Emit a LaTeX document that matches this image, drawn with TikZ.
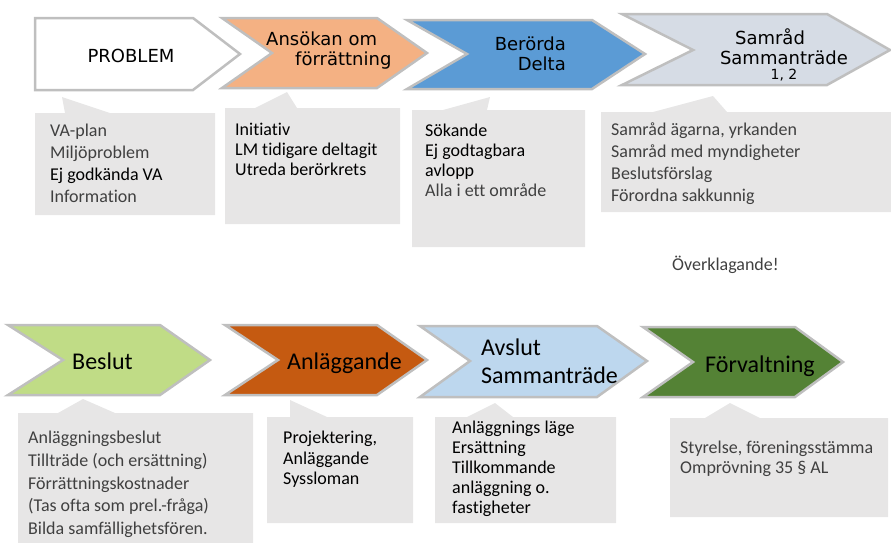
\documentclass[tikz,border=0pt]{standalone}
\usepackage{fontspec}
\setmainfont{Carlito}[Ligatures={TeX,NoCommon}]
\newfontfamily\chevfont{DejaVu Sans}

\begin{document}
\begin{tikzpicture}[x=1pt,y=-1pt,
  chevron/.style={draw=chevgray, line width=2.5pt, line join=miter},
  callout/.style={fill=calloutgray},
  toptext/.style={inner sep=0pt, font=\chevfont\fontsize{18}{20}\selectfont},
  bottext/.style={inner sep=0pt, font=\fontsize{24}{28}\selectfont},
  notetext/.style={inner sep=0pt, anchor=north west, align=left, text=notegray, font=\fontsize{18}{22}\selectfont},
  tightnote/.style={notetext, text=black, font=\fontsize{18}{20}\selectfont}]
\definecolor{chevgray}{RGB}{191,191,191}
\definecolor{calloutgray}{RGB}{231,230,230}
\definecolor{notegray}{RGB}{64,64,64}
\definecolor{ansokanorange}{RGB}{244,177,131}
\definecolor{berordablue}{RGB}{91,155,213}
\definecolor{samradgray}{RGB}{214,220,229}
\definecolor{beslutgreen}{RGB}{192,220,134}
\definecolor{anlaggbrown}{RGB}{197,90,17}
\definecolor{avslutblue}{RGB}{189,215,238}
\definecolor{forvaltgreen}{RGB}{84,130,53}
\useasboundingbox (0,0) rectangle (891,542);

\path[chevron, fill=white] (35,18) -- (193,18) -- (240,54) -- (193,90) -- (35,90) -- cycle;
\path[chevron, fill=ansokanorange] (222,18) -- (377,18) -- (427,53) -- (377,88) -- (222,88) -- (272,53) -- cycle;
\path[chevron, fill=berordablue] (407,20) -- (592,20) -- (645,54) -- (592,89) -- (407,89) -- (467,54) -- cycle;
\path[chevron, fill=samradgray] (622,14) -- (827,14) -- (890,50) -- (827,85) -- (622,85) -- (693,50) -- cycle;
\path[chevron, fill=beslutgreen] (8,325) -- (160,325) -- (210,360) -- (160,395) -- (8,395) -- (63,360) -- cycle;
\path[chevron, fill=anlaggbrown] (225,325) -- (377,325) -- (427,360) -- (377,395) -- (225,395) -- (278,360) -- cycle;
\path[chevron, fill=avslutblue] (420,326) -- (597,326) -- (647,361) -- (597,397) -- (420,397) -- (470,361) -- cycle;
\path[chevron, fill=forvaltgreen] (643,327) -- (795,327) -- (843,362) -- (795,397) -- (643,397) -- (693,362) -- cycle;

\node[toptext, anchor=base] (problem) at (131,62) {PROBLEM};
\node[toptext, anchor=north west, align=left] (ansokan) at (266,32) {Ansökan om\\\hspace*{29pt}förrättning};
\node[toptext, anchor=north east, align=right] (berorda) at (566,37) {Berörda\\Delta};
\node[toptext, anchor=north, align=center] (samrad) at (784,28) {Samråd\hspace*{28pt}\\Sammanträde\\[-5pt]{\fontsize{14}{16}\selectfont 1, 2}};
\node[bottext, anchor=base west] (beslut) at (72,369) {Beslut};
\node[bottext, anchor=base west] (anlaggande) at (287,369) {Anläggande};
\node[bottext, anchor=north west, align=left] (avslut) at (481,339) {Avslut\\Sammanträde};
\node[bottext, anchor=base west] (forvaltning) at (705,372) {Förvaltning};

\path[callout] (35,113) -- (65,113) -- (62,97) -- (110,113) -- (215,113) -- (215,215) -- (35,215) -- cycle;
\path[callout] (225,108) -- (255,108) -- (287,92) -- (297,108) -- (400,108) -- (400,224) -- (225,224) -- cycle;
\path[callout] (412,110) -- (443,110) -- (490,97) -- (487,110) -- (585,110) -- (585,247) -- (412,247) -- cycle;
\path[callout] (601,112) -- (653,112) -- (713,96) -- (727,112) -- (891,112) -- (891,212) -- (601,212) -- cycle;
\path[callout] (18,413) -- (58,413) -- (83,399) -- (115,413) -- (253,413) -- (253,550) -- (18,550) -- cycle;
\path[callout] (267,417) -- (290,417) -- (290,400) -- (327,417) -- (413,417) -- (413,523) -- (267,523) -- cycle;
\path[callout] (435,417) -- (467,417) -- (495,403) -- (513,417) -- (616,417) -- (616,523) -- (435,523) -- cycle;
\path[callout] (670,418) -- (705,418) -- (730,403) -- (760,418) -- (888,418) -- (888,517) -- (670,517) -- cycle;

\node[notetext] (problemnote) at (50,124) {VA-plan\\Miljöproblem\\\textcolor{black}{Ej godkända VA}\\Information};
\node[tightnote] (ansokannote) at (235,123) {Initiativ\\LM tidigare deltagit\\Utreda berörkrets};
\node[tightnote] (berordanote) at (425,124) {Sökande\\Ej godtagbara\\avlopp\\\textcolor{notegray}{Alla i ett område}};
\node[notetext] (samradnote) at (611,123) {Samråd ägarna, yrkanden\\Samråd med myndigheter\\Beslutsförslag\\Förordna sakkunnig};
\node[notetext, font=\fontsize{18}{22.7}\selectfont] (beslutnote) at (28,431) {Anläggningsbeslut\\Tillträde (och ersättning)\\Förrättningskostnader\\(Tas ofta som prel.-fråga)\\Bilda samfällighetsfören.};
\node[tightnote, font=\fontsize{18}{20.5}\selectfont] (anlaggnote) at (283,431) {Projektering,\\Anläggande\\Syssloman};
\node[tightnote] (avslutnote) at (452,421) {Anläggnings läge\\Ersättning\\Tillkommande\\anläggning o.\\fastigheter};
\node[notetext, font=\fontsize{18}{20}\selectfont] (forvaltnote) at (680,441) {Styrelse, föreningsstämma\\Omprövning 35 § AL};
\node[inner sep=0pt, anchor=base west, text=notegray, font=\fontsize{18}{22}\selectfont] (overklag) at (672,270) {Överklagande!};
\end{tikzpicture}
\end{document}
